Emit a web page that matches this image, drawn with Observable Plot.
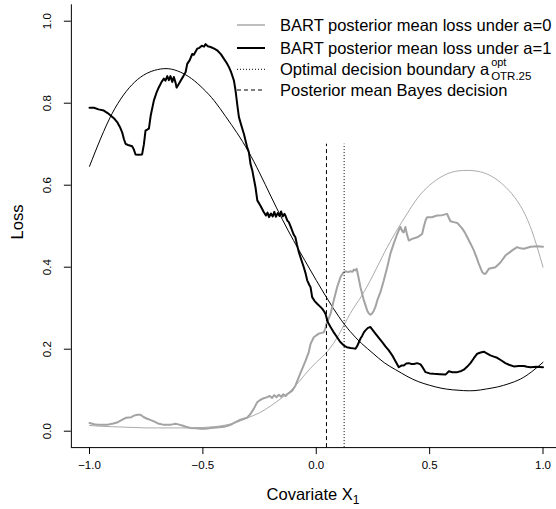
<!DOCTYPE html>
<html><head><meta charset="utf-8">
<script src="https://cdn.jsdelivr.net/npm/d3@7"></script>
<script src="https://cdn.jsdelivr.net/npm/@observablehq/plot@0.6"></script>
<style>
html,body{margin:0;padding:0;background:#fff;overflow:hidden;}
#chart svg{display:block;max-width:none;}
</style></head><body><div id="chart"></div>
<script>
// ---- data ----
const xTicks = [-1, -0.5, 0, 0.5, 1];
const yTicks = [0, 0.2, 0.4, 0.6, 0.8, 1];

// true (smooth) loss curves
const trueX = [-1,-0.95,-0.9,-0.85,-0.8,-0.75,-0.7,-0.65,-0.6,-0.55,-0.5,-0.45,-0.4,-0.35,-0.3,-0.25,-0.2,-0.15,-0.1,-0.05,0,0.05,0.1,0.15,0.2,0.25,0.3,0.35,0.4,0.45,0.5,0.55,0.6,0.65,0.7,0.75,0.8,0.85,0.9,0.95,1];
const trueLossA1 = [0.646,0.715,0.775,0.820,0.852,0.872,0.882,0.884,0.876,0.860,0.836,0.806,0.768,0.728,0.683,0.630,0.573,0.517,0.465,0.416,0.368,0.322,0.279,0.243,0.214,0.190,0.167,0.150,0.134,0.121,0.112,0.105,0.101,0.099,0.099,0.103,0.108,0.116,0.127,0.145,0.168];
const trueLossA0 = [0.014,0.012,0.011,0.010,0.009,0.008,0.008,0.008,0.008,0.008,0.009,0.011,0.015,0.022,0.033,0.045,0.062,0.082,0.106,0.138,0.168,0.195,0.236,0.287,0.330,0.380,0.435,0.485,0.530,0.571,0.600,0.620,0.632,0.636,0.635,0.628,0.612,0.587,0.550,0.490,0.400];

// BART posterior mean loss under a=1
const bartA1X = [-1,-0.98,-0.96,-0.937,-0.92,-0.907,-0.89,-0.878,-0.866,-0.856,-0.848,-0.841,-0.83,-0.812,-0.805,-0.797,-0.785,-0.768,-0.76,-0.753,-0.738,-0.73,-0.716,-0.705,-0.694,-0.682,-0.672,-0.665,-0.657,-0.65,-0.643,-0.635,-0.628,-0.62,-0.616,-0.607,-0.598,-0.586,-0.576,-0.569,-0.558,-0.547,-0.54,-0.525,-0.515,-0.505,-0.495,-0.488,-0.478,-0.466,-0.45,-0.437,-0.42,-0.407,-0.395,-0.385,-0.375,-0.363,-0.356,-0.348,-0.341,-0.33,-0.319,-0.305,-0.297,-0.29,-0.282,-0.275,-0.268,-0.26,-0.246,-0.231,-0.222,-0.215,-0.208,-0.2,-0.192,-0.185,-0.178,-0.17,-0.162,-0.155,-0.148,-0.14,-0.136,-0.128,-0.121,-0.11,-0.1,-0.092,-0.085,-0.077,-0.066,-0.055,-0.047,-0.04,-0.03,-0.025,-0.018,-0.008,0.004,0.015,0.026,0.035,0.041,0.051,0.063,0.075,0.092,0.105,0.122,0.135,0.151,0.165,0.173,0.18,0.188,0.195,0.203,0.21,0.217,0.228,0.239,0.25,0.261,0.275,0.291,0.305,0.32,0.335,0.35,0.364,0.375,0.386,0.397,0.408,0.42,0.431,0.445,0.46,0.47,0.482,0.5,0.519,0.545,0.57,0.585,0.6,0.622,0.64,0.651,0.665,0.68,0.695,0.71,0.725,0.739,0.752,0.768,0.783,0.798,0.815,0.834,0.85,0.871,0.893,0.915,0.93,0.945,0.97,1];
const bartA1Y = [0.789,0.789,0.785,0.782,0.776,0.77,0.762,0.754,0.742,0.729,0.712,0.701,0.698,0.695,0.688,0.675,0.674,0.675,0.7,0.733,0.738,0.77,0.807,0.825,0.839,0.852,0.86,0.855,0.866,0.856,0.866,0.852,0.864,0.849,0.838,0.846,0.855,0.866,0.876,0.896,0.905,0.92,0.918,0.933,0.935,0.94,0.938,0.944,0.939,0.937,0.933,0.929,0.919,0.908,0.898,0.888,0.875,0.855,0.831,0.795,0.766,0.745,0.725,0.693,0.68,0.652,0.636,0.615,0.595,0.563,0.55,0.534,0.526,0.533,0.522,0.531,0.524,0.535,0.523,0.532,0.525,0.536,0.524,0.53,0.526,0.514,0.51,0.495,0.48,0.473,0.455,0.437,0.418,0.4,0.385,0.368,0.356,0.351,0.327,0.318,0.311,0.305,0.299,0.292,0.286,0.266,0.254,0.243,0.229,0.218,0.209,0.205,0.203,0.202,0.201,0.207,0.217,0.226,0.233,0.241,0.246,0.252,0.254,0.246,0.238,0.228,0.217,0.207,0.197,0.185,0.17,0.156,0.16,0.16,0.165,0.166,0.164,0.164,0.166,0.163,0.155,0.144,0.141,0.14,0.139,0.138,0.146,0.144,0.144,0.147,0.15,0.157,0.166,0.178,0.189,0.192,0.194,0.19,0.185,0.182,0.179,0.173,0.166,0.162,0.158,0.159,0.159,0.157,0.156,0.157,0.156];

// BART posterior mean loss under a=0
const bartA0X = [-1,-0.98,-0.963,-0.94,-0.919,-0.895,-0.875,-0.855,-0.838,-0.816,-0.804,-0.789,-0.775,-0.76,-0.748,-0.738,-0.716,-0.694,-0.675,-0.657,-0.64,-0.62,-0.605,-0.591,-0.575,-0.555,-0.53,-0.51,-0.49,-0.466,-0.44,-0.407,-0.38,-0.356,-0.334,-0.305,-0.29,-0.275,-0.26,-0.25,-0.238,-0.216,-0.205,-0.195,-0.185,-0.175,-0.165,-0.155,-0.145,-0.135,-0.128,-0.115,-0.106,-0.092,-0.077,-0.062,-0.047,-0.033,-0.025,-0.011,0.011,0.033,0.04,0.045,0.063,0.077,0.092,0.107,0.118,0.129,0.14,0.151,0.16,0.166,0.172,0.178,0.183,0.195,0.21,0.225,0.232,0.239,0.246,0.254,0.262,0.269,0.283,0.298,0.313,0.327,0.342,0.357,0.364,0.371,0.38,0.386,0.393,0.4,0.408,0.423,0.445,0.46,0.467,0.474,0.482,0.489,0.51,0.533,0.555,0.577,0.585,0.592,0.607,0.622,0.644,0.655,0.666,0.68,0.695,0.706,0.717,0.732,0.74,0.747,0.761,0.775,0.79,0.813,0.835,0.85,0.864,0.886,0.9,0.916,0.945,0.974,1];
const bartA0Y = [0.02,0.017,0.016,0.016,0.016,0.019,0.022,0.028,0.033,0.034,0.038,0.04,0.04,0.034,0.031,0.029,0.024,0.018,0.016,0.016,0.016,0.018,0.016,0.014,0.011,0.008,0.007,0.006,0.006,0.008,0.009,0.011,0.015,0.022,0.028,0.033,0.042,0.055,0.071,0.075,0.079,0.083,0.086,0.081,0.088,0.083,0.089,0.084,0.09,0.086,0.09,0.095,0.099,0.111,0.132,0.152,0.172,0.193,0.213,0.229,0.238,0.241,0.25,0.262,0.286,0.319,0.351,0.376,0.386,0.39,0.388,0.39,0.389,0.394,0.392,0.396,0.384,0.351,0.319,0.294,0.287,0.284,0.287,0.294,0.305,0.319,0.339,0.368,0.4,0.433,0.458,0.481,0.49,0.498,0.487,0.485,0.498,0.48,0.465,0.469,0.473,0.478,0.481,0.498,0.514,0.522,0.522,0.526,0.527,0.53,0.52,0.512,0.51,0.508,0.494,0.485,0.473,0.458,0.441,0.425,0.408,0.388,0.384,0.384,0.396,0.398,0.4,0.412,0.429,0.435,0.441,0.449,0.446,0.445,0.45,0.451,0.45];

const optimalBoundary = 0.123;   // dotted line
const bayesDecision = 0.045;     // dashed line
const vlineTop = 0.70;

const legendLabels = [
  "BART posterior mean loss under a=0",
  "BART posterior mean loss under a=1",
  "Optimal decision boundary a",
  "Posterior mean Bayes decision"
];
const xLabel = "Covariate X";
const yLabel = "Loss";

// ---- build tables ----
const trueA1 = trueX.map((x, i) => ({x, y: trueLossA1[i]}));
const trueA0 = trueX.map((x, i) => ({x, y: trueLossA0[i]}));
const bart1 = bartA1X.map((x, i) => ({x, y: bartA1Y[i]}));
const bart0 = bartA0X.map((x, i) => ({x, y: bartA0Y[i]}));

const FONT = "'Liberation Sans', Arial, Helvetica, sans-serif";
const GRAY = "#a3a3a3";
const fmt = d3.format(".1f");

const plot = Plot.plot({
  width: 556, height: 509,
  marginLeft: 70.86, marginRight: 0, marginTop: 4.3, marginBottom: 61.9,
  x: {domain: [-1.08, 1.0595]},
  y: {domain: [-0.04, 1.04]},
  style: {fontFamily: FONT, background: "#fff", color: "#000"},
  marks: [
    Plot.line(trueA0, {x: "x", y: "y", stroke: "#ababab", strokeWidth: 1, curve: "natural"}),
    Plot.line(trueA1, {x: "x", y: "y", stroke: "#000", strokeWidth: 1, curve: "natural"}),
    Plot.line(bart0, {x: "x", y: "y", stroke: GRAY, strokeWidth: 2, strokeLinejoin: "round"}),
    Plot.line(bart1, {x: "x", y: "y", stroke: "#000", strokeWidth: 2, strokeLinejoin: "round"}),
    Plot.ruleX([bayesDecision], {y1: -0.04, y2: vlineTop, stroke: "#000", strokeWidth: 1, strokeDasharray: "4,3"}),
    Plot.ruleX([optimalBoundary], {y1: -0.04, y2: vlineTop, stroke: "#000", strokeWidth: 1, strokeDasharray: "1,2"}),
    Plot.ruleX([-1.08], {stroke: "#000", strokeWidth: 1}),
    Plot.ruleY([-0.04], {stroke: "#000", strokeWidth: 1}),
    Plot.axisX(xTicks, {anchor: "bottom", tickSize: 7, tickPadding: 6, tickFormat: fmt, fontSize: 11.5, label: null, stroke: "#000"}),
    Plot.axisY(yTicks, {anchor: "left", tickSize: 7, tickPadding: 13, tickRotate: -90, tickFormat: fmt, fontSize: 11.5, label: null, stroke: "#000"})
  ]
});
document.getElementById("chart").appendChild(plot);

// ---- axis titles and legend ----
const svg = d3.select(plot);
const xt = svg.append("text").attr("font-family", FONT).attr("font-size", 16.5)
  .attr("text-anchor", "middle").attr("x", 313).attr("y", 500).attr("fill", "#000");
xt.append("tspan").text(xLabel);
xt.append("tspan").attr("font-size", 12).attr("dy", 4).text("1");

svg.append("text").attr("font-family", FONT).attr("font-size", 16.5)
  .attr("text-anchor", "middle").attr("fill", "#000")
  .attr("transform", "translate(23,222) rotate(-90)").text(yLabel);

const rows = [
  {y: 25, stroke: "#a8a8a8", w: 1.5, dash: null},
  {y: 48, stroke: "#000", w: 2, dash: null},
  {y: 69.3, stroke: "#000", w: 1, dash: "1,2"},
  {y: 90, stroke: "#000", w: 1, dash: "4,3"}
];
const lg = svg.append("g").attr("font-family", FONT).attr("font-size", 16.5)
  .attr("fill", "#000").attr("text-anchor", "start");
rows.forEach((r, i) => {
  const ln = lg.append("line").attr("x1", 237).attr("x2", 265).attr("y1", r.y).attr("y2", r.y)
    .attr("stroke", r.stroke).attr("stroke-width", r.w);
  if (r.dash) ln.attr("stroke-dasharray", r.dash);
  const t = lg.append("text").attr("text-anchor", "start").attr("x", 280).attr("y", r.y + 5.9).text(legendLabels[i]);
  if (i === 2) {
    const w = t.node().getComputedTextLength();
    lg.append("text").attr("text-anchor", "start").attr("x", 280 + w + 2).attr("y", r.y - 3).attr("font-size", 11).text("opt");
    lg.append("text").attr("text-anchor", "start").attr("x", 280 + w + 2).attr("y", r.y + 10.8).attr("font-size", 11.5).text("OTR.25");
  }
});
</script></body></html>
